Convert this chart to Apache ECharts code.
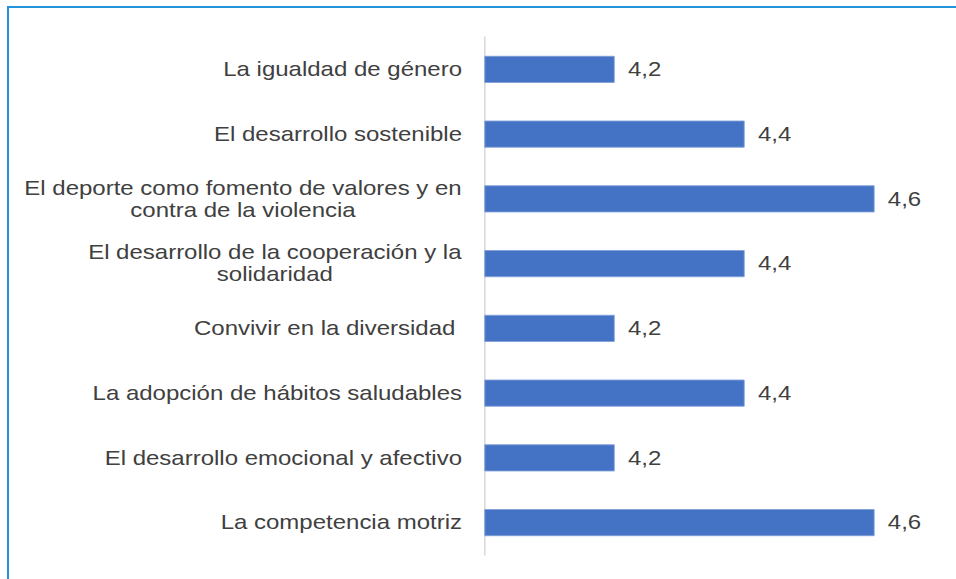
<!DOCTYPE html>
<html lang="es">
<head>
    <meta charset="UTF-8">
    <title>Valoración</title>
    <script src="https://cdn.jsdelivr.net/npm/echarts@6/dist/echarts.min.js"></script>
    <style>
        body { margin: 0; background: #fff; overflow: hidden; }
        #marco { position: absolute; left: 7px; top: 6px; width: 949px; height: 573px;
                 border-left: 2px solid #2393DA; border-top: 2px solid #2393DA; box-sizing: border-box; }
        /* la imagen original está estirada en horizontal */
        #main { width: 789px; height: 571px; transform: scaleX(1.2); transform-origin: 0 0; }
    </style>
</head>
<body>
<div id="marco"><div id="main"></div></div>
<script>
    // categorias (de arriba abajo) y valores
    var categorias = [
        'La igualdad de género',
        'El desarrollo sostenible',
        'El deporte como fomento de valores y en\ncontra de la violencia',
        'El desarrollo de la cooperación y la\nsolidaridad',
        'Convivir en la diversidad ',
        'La adopción de hábitos saludables',
        'El desarrollo emocional y afectivo',
        'La competencia motriz'
    ];
    var valores = [4.2, 4.4, 4.6, 4.4, 4.2, 4.4, 4.2, 4.6];

    var fuente = '"Liberation Sans", Arial, sans-serif';
    var tam = 20;

    // medir ancho de texto para centrar las líneas de etiquetas de dos líneas
    var cv = document.createElement('canvas').getContext('2d');
    cv.font = tam + 'px ' + fuente;
    function ancho(t) { return Math.ceil(cv.measureText(t).width); }

    // un estilo rich por etiqueta de dos líneas, con su propio ancho
    var rich = {};
    categorias.forEach(function (c, i) {
        var lineas = c.split('\n');
        if (lineas.length > 1) {
            rich['c' + i] = {
                fontFamily: fuente, fontSize: tam, color: '#404040', lineHeight: 22, align: 'center',
                width: Math.max.apply(null, lineas.map(ancho))
            };
        }
    });

    var myChart = echarts.init(document.getElementById('main'), null, { renderer: 'svg' });

    var option = {
        animation: false,
        grid: { left: 396.5, top: 29, width: 379, height: 518, containLabel: false },
        xAxis: {
            type: 'value', min: 4.0, max: 4.7, show: false
        },
        yAxis: {
            type: 'category',
            inverse: true,
            data: categorias,
            axisTick: { show: false },
            axisLine: { show: true, lineStyle: { color: '#d9d9d9', width: 1.3 } },
            axisLabel: {
                margin: 19,
                color: '#404040',
                fontFamily: fuente,
                fontSize: tam,
                lineHeight: 22,
                formatter: function (v, i) {
                    var lineas = v.split('\n');
                    if (lineas.length === 1) return v;
                    return lineas.map(function (l) { return '{c' + i + '|' + l + '}'; }).join('\n');
                },
                rich: rich
            }
        },
        series: [{
            type: 'bar',
            data: valores,
            barWidth: 27,
            itemStyle: { color: '#4472C4', borderColor: '#7f9fd9', borderWidth: 0.8 },
            label: {
                show: true,
                position: 'right',
                distance: 11,
                color: '#404040',
                fontFamily: fuente,
                fontSize: tam,
                formatter: function (p) { return String(p.value).replace('.', ','); }
            }
        }]
    };

    myChart.setOption(option);
</script>
</body>
</html>
